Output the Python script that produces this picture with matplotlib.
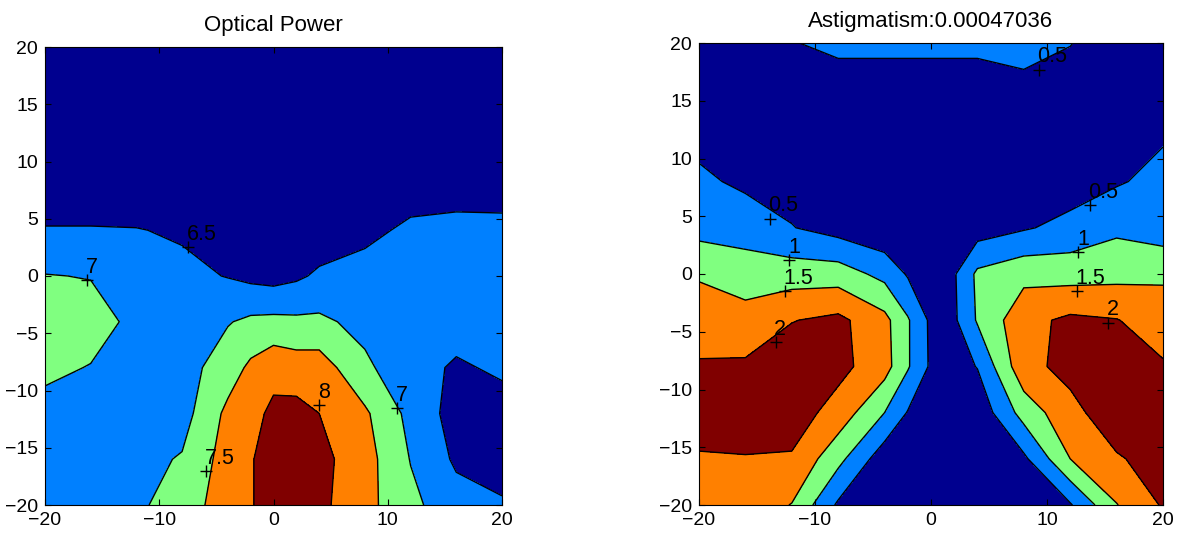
import numpy as np
import matplotlib
matplotlib.use("Agg")
import matplotlib.pyplot as plt

plt.rcParams['font.family'] = ['Liberation Sans', 'DejaVu Sans']

# ---------------- data ----------------
grid_x = [-20, -16, -12, -8, -4, -2, 0, 2, 4, 8, 12, 16, 20]
grid_y = [20, 16, 12, 8, 4, 0, -4, -8, -12, -16, -20]   # rows top -> bottom

# Optical power, one list per x column (each list runs y = 20 ... -20)
power_cols = [
    [5.6, 5.7, 5.9, 6.1, 6.54, 7.02, 7.3, 7.1, 6.85, 6.7, 6.6],        # x=-20
    [5.6, 5.7, 5.9, 6.1, 6.54, 6.98, 7.2, 6.98, 6.85, 6.75, 6.75],     # x=-16
    [5.6, 5.7, 5.9, 6.15, 6.52, 6.85, 6.88, 6.85, 6.8, 6.85, 6.9],     # x=-12
    [5.6, 5.7, 5.9, 6.2, 6.44, 6.62, 6.75, 6.8, 6.8, 7.04, 7.26],      # x=-8
    [5.6, 5.75, 5.95, 6.15, 6.32, 6.48, 6.97, 7.25, 7.62, 7.72, 7.74], # x=-4
    [5.6, 5.8, 5.95, 6.1, 6.22, 6.38, 7.1, 7.6, 7.85, 7.95, 7.95],     # x=-2
    [5.6, 5.8, 5.95, 6.1, 6.22, 6.32, 7.13, 7.85, 8.1, 8.3, 8.3],      # x=0
    [5.6, 5.8, 5.95, 6.1, 6.22, 6.42, 7.1, 7.75, 8.15, 8.3, 8.25],     # x=2
    [5.6, 5.8, 5.95, 6.1, 6.2, 6.58, 7.1, 7.75, 8.0, 8.15, 8.12],      # x=4
    [5.6, 5.8, 6.0, 6.25, 6.42, 6.62, 6.85, 7.1, 7.58, 7.7, 7.66],     # x=8
    [5.7, 5.9, 6.1, 6.35, 6.56, 6.7, 6.8, 6.65, 6.85, 6.98, 7.12],     # x=12
    [5.7, 5.9, 6.1, 6.35, 6.6, 6.7, 6.66, 6.45, 6.3, 6.42, 6.7],       # x=16
    [5.7, 5.9, 6.1, 6.3, 6.62, 6.72, 6.7, 6.56, 6.35, 6.3, 6.55],      # x=20
]
power_levels = [6.5, 7, 7.5, 8]

# Astigmatism, one list per x column (y = 20 ... -20)
astig_cols = [
    [0.2, 0.25, 0.35, 0.6, 0.82, 1.45, 1.75, 2.05, 2.15, 1.97, 1.8],  # x=-20
    [0.2, 0.25, 0.35, 0.4, 0.79, 1.24, 1.7, 2.07, 2.2, 1.98, 1.8],    # x=-16
    [0.48, 0.3, 0.25, 0.3, 0.52, 1.26, 1.98, 2.3, 2.25, 1.95, 1.48],  # x=-12
    [0.6, 0.3, 0.2, 0.25, 0.3, 1.25, 2.12, 2.15, 1.8, 1.15, 0.42],    # x=-8
    [0.6, 0.3, 0.2, 0.15, 0.1, 0.85, 1.65, 1.7, 1.0, 0.2, 0.15],      # x=-4
    [0.6, 0.3, 0.15, 0.1, 0.08, 0.45, 1.05, 1.05, 0.47, 0.1, 0.05],   # x=-2
    [0.6, 0.3, 0.12, 0.08, 0.06, 0.2, 0.4, 0.42, 0.2, 0.1, 0.05],     # x=0
    [0.6, 0.3, 0.12, 0.08, 0.1, 0.45, 0.42, 0.3, 0.1, 0.08, 0.05],    # x=2
    [0.6, 0.3, 0.15, 0.12, 0.25, 1.1, 1.05, 0.52, 0.15, 0.15, 0.1],   # x=4
    [0.7, 0.35, 0.2, 0.25, 0.45, 1.35, 1.85, 1.85, 1.2, 0.4, 0.12],   # x=8
    [0.52, 0.25, 0.2, 0.25, 0.65, 1.3, 2.1, 2.15, 1.85, 1.5, 0.45],   # x=12
    [0.2, 0.25, 0.3, 0.45, 0.9, 1.35, 2.02, 2.3, 2.3, 1.95, 1.48],    # x=16
    [0.2, 0.3, 0.45, 0.65, 0.72, 1.42, 1.75, 2.05, 2.3, 2.2, 2.05],   # x=20
]
astig_levels = [0.5, 1, 1.5, 2]

# contour label anchor points (x, y, text)
power_labels = [(-7.5, 2.55, "6.5"), (-16.3, -0.36, "7"), (4.0, -11.3, "8"),
                (10.8, -11.5, "7"), (-5.9, -17.0, "7.5")]
astig_labels = [(9.3, 17.7, "0.5"), (-13.9, 4.8, "0.5"), (13.7, 6.0, "0.5"),
                (-12.2, 1.2, "1"), (12.7, 1.9, "1"), (-12.6, -1.5, "1.5"),
                (12.6, -1.5, "1.5"), (-13.4, -5.9, "2"), (15.3, -4.2, "2")]

titles = ["Optical Power", "Astigmatism:0.00047036"]
xticks = [-20, -10, 0, 10, 20]
yticks = [-20, -15, -10, -5, 0, 5, 10, 15, 20]

band_colors = ["#00008F", "#0080FF", "#80FF80", "#FF8000", "#800000"]

# ---------------- figure ----------------
W, H = 1179, 538
fig = plt.figure(figsize=(W / 100, H / 100), dpi=100)
ax_boxes = [
    (45 / W, (H - 505) / H, 457 / W, 458 / H),
    (699 / W, (H - 505) / H, 464 / W, 462 / H),
]

datasets = [(power_cols, power_levels, power_labels),
            (astig_cols, astig_levels, astig_labels)]

for box, (cols, levels, labels), title in zip(ax_boxes, datasets, titles):
    ax = fig.add_axes(box)
    Z = np.array(cols).T  # rows = y, cols = x
    X, Y = np.meshgrid(grid_x, grid_y)
    lv = [-1e3] + list(levels) + [1e3]
    ax.contourf(X, Y, Z, levels=lv, colors=band_colors)
    ax.contour(X, Y, Z, levels=levels, colors="black", linewidths=1.0)
    for (lx, ly, t) in labels:
        ax.plot(lx, ly, marker="+", color="black", ms=9, mew=1.0)
        ax.annotate(t, (lx, ly), xytext=(-1, 1.5), textcoords="offset points",
                    fontsize=15.5, ha="left", va="bottom", color="black")
    ax.set_xlim(-20, 20)
    ax.set_ylim(-20, 20)
    ax.set_xticks(xticks)
    ax.set_yticks(yticks)
    ax.tick_params(direction="in", top=True, right=True, length=4,
                   labelsize=14, pad=5, width=0.8)
    for s in ax.spines.values():
        s.set_linewidth(0.8)
    ax.set_title(title, fontsize=16, pad=11.5)

fig.savefig("out.png", dpi=100)
